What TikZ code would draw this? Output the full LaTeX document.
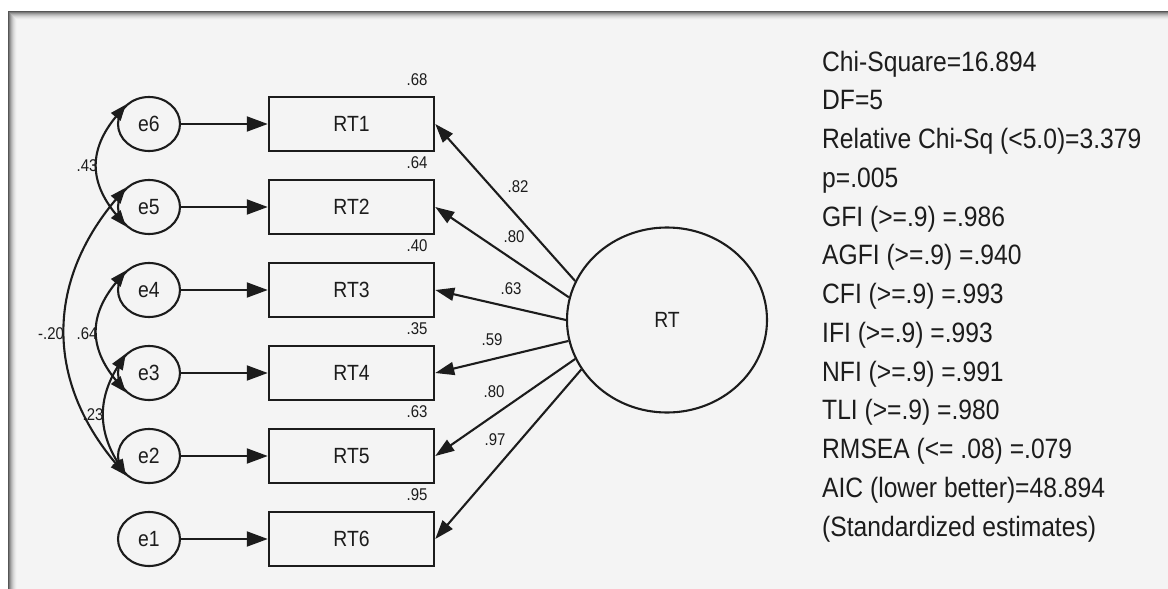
\documentclass[tikz,border=0pt]{standalone}
\usepackage{fontspec}
\setmainfont{Liberation Sans}[FakeStretch=0.88]
\usetikzlibrary{arrows.meta,calc,shapes.geometric}
\definecolor{panel}{HTML}{F4F4F4}
\definecolor{ink}{HTML}{1C1C1C}
\begin{document}
\begin{tikzpicture}[x=1pt,y=-1pt,
  conn/.style={draw=ink, line width=2.1pt},
  lat/.style={ellipse, draw=ink, line width=2.1pt, minimum width=62pt, minimum height=54pt, inner sep=0pt, text=ink, font=\fontsize{22}{26}\selectfont},
  obs/.style={rectangle, draw=ink, line width=2.5pt, minimum width=165pt, minimum height=54pt, inner sep=0pt, text=ink, font=\fontsize{22}{26}\selectfont},
  fac/.style={ellipse, draw=ink, line width=2.1pt, minimum width=200pt, minimum height=185pt, inner sep=0pt, text=ink, font=\fontsize{22}{26}\selectfont},
  lbl/.style={inner sep=0pt, text=ink, font=\fontsize{17}{20}\selectfont},
  stat/.style={anchor=base west, inner sep=0pt, text=ink, font=\fontsize{28}{34}\selectfont},
  tipE/.style={-{Triangle[length=21pt,width=15pt]}},
  tipL/.style={-{Triangle[length=19pt,width=13pt]}},
  tipC/.style={{Triangle[length=16pt,width=12pt]}-{Triangle[length=16pt,width=12pt]}}
]
\useasboundingbox (0,0) rectangle (1168,589);
\fill[white] (0,0) rectangle (1168,589);
\fill[panel] (8,11) rectangle (1168,589);
\foreach \i/\p in {0/35,1/50,2/62,3/72,4/80,5/87,6/92,7/96,8/99}{
  \fill[panel!\p!black] (8+\i,11+\i) rectangle (1168,12+\i);
  \fill[panel!\p!black] (8+\i,11+\i) rectangle (9+\i,589);
}

% error terms
\node[lat] (e6) at (149,124) {e6};
\node[lat] (e5) at (149,207) {e5};
\node[lat] (e4) at (149,290) {e4};
\node[lat] (e3) at (149,373) {e3};
\node[lat] (e2) at (149,456) {e2};
\node[lat] (e1) at (149,539) {e1};

% observed
\node[obs] (RT1) at (351.5,124) {RT1};
\node[obs] (RT2) at (351.5,207) {RT2};
\node[obs] (RT3) at (351.5,290) {RT3};
\node[obs] (RT4) at (351.5,373) {RT4};
\node[obs] (RT5) at (351.5,456) {RT5};
\node[obs] (RT6) at (351.5,539) {RT6};

% factor
\node[fac] (RT) at (667,320) {RT};

% error arrows
\draw[conn,tipE] (e6) -- (RT1);
\draw[conn,tipE] (e5) -- (RT2);
\draw[conn,tipE] (e4) -- (RT3);
\draw[conn,tipE] (e3) -- (RT4);
\draw[conn,tipE] (e2) -- (RT5);
\draw[conn,tipE] (e1) -- (RT6);

% loadings
\draw[conn,tipL] (RT.157) -- (RT1.east);
\draw[conn,tipL] (RT.167.5) -- (RT2.east);
\draw[conn,tipL] (RT.180) -- (RT3.east);
\draw[conn,tipL] (RT.192.5) -- (RT4.east);
\draw[conn,tipL] (RT.203) -- (RT5.east);
\draw[conn,tipL] (RT.210) -- (RT6.east);

\node[lbl] (l1) at (518,187) {.82};
\node[lbl] (l2) at (514,237) {.80};
\node[lbl] (l3) at (511,289) {.63};
\node[lbl] (l4) at (492,340) {.59};
\node[lbl] (l5) at (494,392) {.80};
\node[lbl] (l6) at (495,440) {.97};

% squared multiple correlations
\node[lbl] (v1) at (417,80) {.68};
\node[lbl] (v2) at (417,163) {.64};
\node[lbl] (v3) at (417,246) {.40};
\node[lbl] (v4) at (417,329) {.35};
\node[lbl] (v5) at (417,412) {.63};
\node[lbl] (v6) at (417,495) {.95};

% covariances
\draw[conn,tipC] (e6.140) .. controls ($(e6.140)+(-37,45)$) and ($(e5.220)+(-37,-45)$) .. (e5.220);
\draw[conn,tipC] (e5.140) .. controls ($(e5.140)+(-80,95)$) and ($(e2.220)+(-80,-95)$) .. (e2.220);
\draw[conn,tipC] (e4.140) .. controls ($(e4.140)+(-37,45)$) and ($(e3.220)+(-37,-45)$) .. (e3.220);
\draw[conn,tipC] (e3.140) .. controls ($(e3.140)+(-28,45)$) and ($(e2.220)+(-28,-45)$) .. (e2.220);

\node[lbl] (c1) at (87,166) {.43};
\node[lbl] (c2) at (51,334) {-.20};
\node[lbl] (c3) at (87,334) {.64};
\node[lbl] (c4) at (93,415) {.23};

% fit statistics
\node[stat] (s1) at (822,71) {Chi-Square=16.894};
\node[stat] (s2) at (822,109.75) {DF=5};
\node[stat] (s3) at (822,148.5) {Relative Chi-Sq (<5.0)=3.379};
\node[stat] (s4) at (822,187.25) {p=.005};
\node[stat] (s5) at (822,226) {GFI (>=.9) =.986};
\node[stat] (s6) at (822,264.75) {AGFI (>=.9) =.940};
\node[stat] (s7) at (822,303.5) {CFI (>=.9) =.993};
\node[stat] (s8) at (822,342.25) {IFI (>=.9) =.993};
\node[stat] (s9) at (822,381) {NFI (>=.9) =.991};
\node[stat] (s10) at (822,419.75) {TLI (>=.9) =.980};
\node[stat] (s11) at (822,458.5) {RMSEA (<= .08) =.079};
\node[stat] (s12) at (822,497.25) {AIC (lower better)=48.894};
\node[stat] (s13) at (822,536) {(Standardized estimates)};
\end{tikzpicture}
\end{document}
